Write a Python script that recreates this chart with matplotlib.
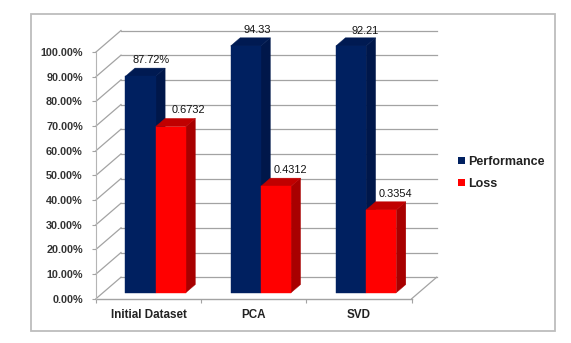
import matplotlib
matplotlib.use("Agg")
import matplotlib.pyplot as plt
from matplotlib.patches import Polygon, Rectangle, Patch

categories = ["Initial Dataset", "PCA", "SVD"]
performance_labels = ["87.72%", "94.33", "92.21"]
performance_heights = [87.72, 100, 100]
loss_labels = ["0.6732", "0.4312", "0.3354"]
loss_heights = [67.32, 43.12, 33.54]
y_ticks = [0, 10, 20, 30, 40, 50, 60, 70, 80, 90, 100]
label_offsets_perf = [(1, 8), (2, 8), (5, 7)]
label_offsets_loss = [(8, 8), (5, 8), (5, 8)]

W, H = 571, 343
plt.rcParams["font.family"] = ["Liberation Sans", "DejaVu Sans"]
fig = plt.figure(figsize=(W / 100, H / 100), dpi=100, facecolor="white")
fig.add_artist(Rectangle((31 / W, 1 - 331 / H), 524 / W, 317 / H, transform=fig.transFigure,
                         fc="white", ec="#bdbdbd", lw=1.3, zorder=-1))

L, R, Y0, Y100 = 96, 411.7, 298.7, 52
ax = fig.add_axes([L / W, 1 - Y0 / H, (R - L) / W, (Y0 - Y100) / H])
ax.patch.set_alpha(0)
ax.set_xlim(0, 3)
ax.set_ylim(0, 100)
for s in ["top", "right", "bottom"]:
    ax.spines[s].set_visible(False)
ax.spines["left"].set_color("#b5b5b5")
ax.spines["left"].set_linewidth(0.8)

DX = 25 / ((R - L) / 3)
DY = 21.5 / ((Y0 - Y100) / 100)


def proj(x, v, d):
    return (x + d * DX, v + d * DY)


GRID = "#a3a3a3"
for t in y_ticks:
    ax.plot(*zip(proj(0, t, 0), proj(0, t, 1)), color=GRID, lw=0.9, clip_on=False, zorder=1)
    ax.plot(*zip(proj(0, t, 1), proj(3, t, 1)), color=GRID, lw=0.9, clip_on=False, zorder=1)
ax.plot(*zip(proj(0, 0, 0), proj(3, 0, 0)), color=GRID, lw=1.0, clip_on=False, zorder=1)
ax.plot(*zip(proj(3, 0, 0), proj(3, 0, 1)), color=GRID, lw=0.9, clip_on=False, zorder=1)

D0, D1 = 0.28, 0.66
BW = 0.287


def bar3d(x, h, front, side, top, z):
    p = [
        ([proj(x + BW, 0, D0), proj(x + BW, 0, D1), proj(x + BW, h, D1), proj(x + BW, h, D0)], side),
        ([proj(x, h, D0), proj(x + BW, h, D0), proj(x + BW, h, D1), proj(x, h, D1)], top),
        ([proj(x, 0, D0), proj(x + BW, 0, D0), proj(x + BW, h, D0), proj(x, h, D0)], front),
    ]
    for pts, c in p:
        ax.add_patch(Polygon(pts, closed=True, fc=c, ec=c, lw=0.3, clip_on=False, zorder=z))


for i in range(3):
    x0 = i + 0.5 - BW
    bar3d(x0, performance_heights[i], "#002060", "#00174a", "#001a52", 3 + i)
    bar3d(x0 + BW, loss_heights[i], "#ff0000", "#a80000", "#c00000", 3.5 + i)
    for x, h, lab, off in [(x0, performance_heights[i], performance_labels[i], label_offsets_perf[i]),
                           (x0 + BW, loss_heights[i], loss_labels[i], label_offsets_loss[i])]:
        ax.annotate(lab, proj(x + BW / 2, h, D1), xytext=off, textcoords="offset pixels",
                    ha="center", va="center", fontsize=7.9, color="#111111",
                    annotation_clip=False, zorder=10)

ax.set_yticks(y_ticks)
ax.set_yticklabels([f"{t:.2f}%" for t in y_ticks], fontsize=7.8, fontweight="bold", color="#333333")
ax.tick_params(axis="y", length=3, width=0.8, color="#a3a3a3", pad=6.5)
ax.set_xticks([0.5, 1.5, 2.5])
ax.set_xticklabels(categories, fontsize=8.4, fontweight="bold", color="#222222")
ax.set_xticks([0, 1, 2, 3], minor=True)
ax.tick_params(axis="x", which="major", length=0, pad=7.5)
ax.tick_params(axis="x", which="minor", length=3, width=0.8, color="#a3a3a3")

handles = [Patch(fc="#002060", ec="none", label="Performance"), Patch(fc="#ff0000", ec="none", label="Loss")]
fig.legend(handles=handles, loc="upper left", bbox_to_anchor=(455.5 / W, 1 - 153.5 / H), frameon=False,
           prop={"size": 9.0, "weight": "bold"}, labelcolor="#222222", handlelength=0.55,
           handleheight=0.55, handletextpad=0.25, labelspacing=0.8, borderpad=0.2, borderaxespad=0)

fig.savefig("out.png", dpi=100, facecolor="white")
